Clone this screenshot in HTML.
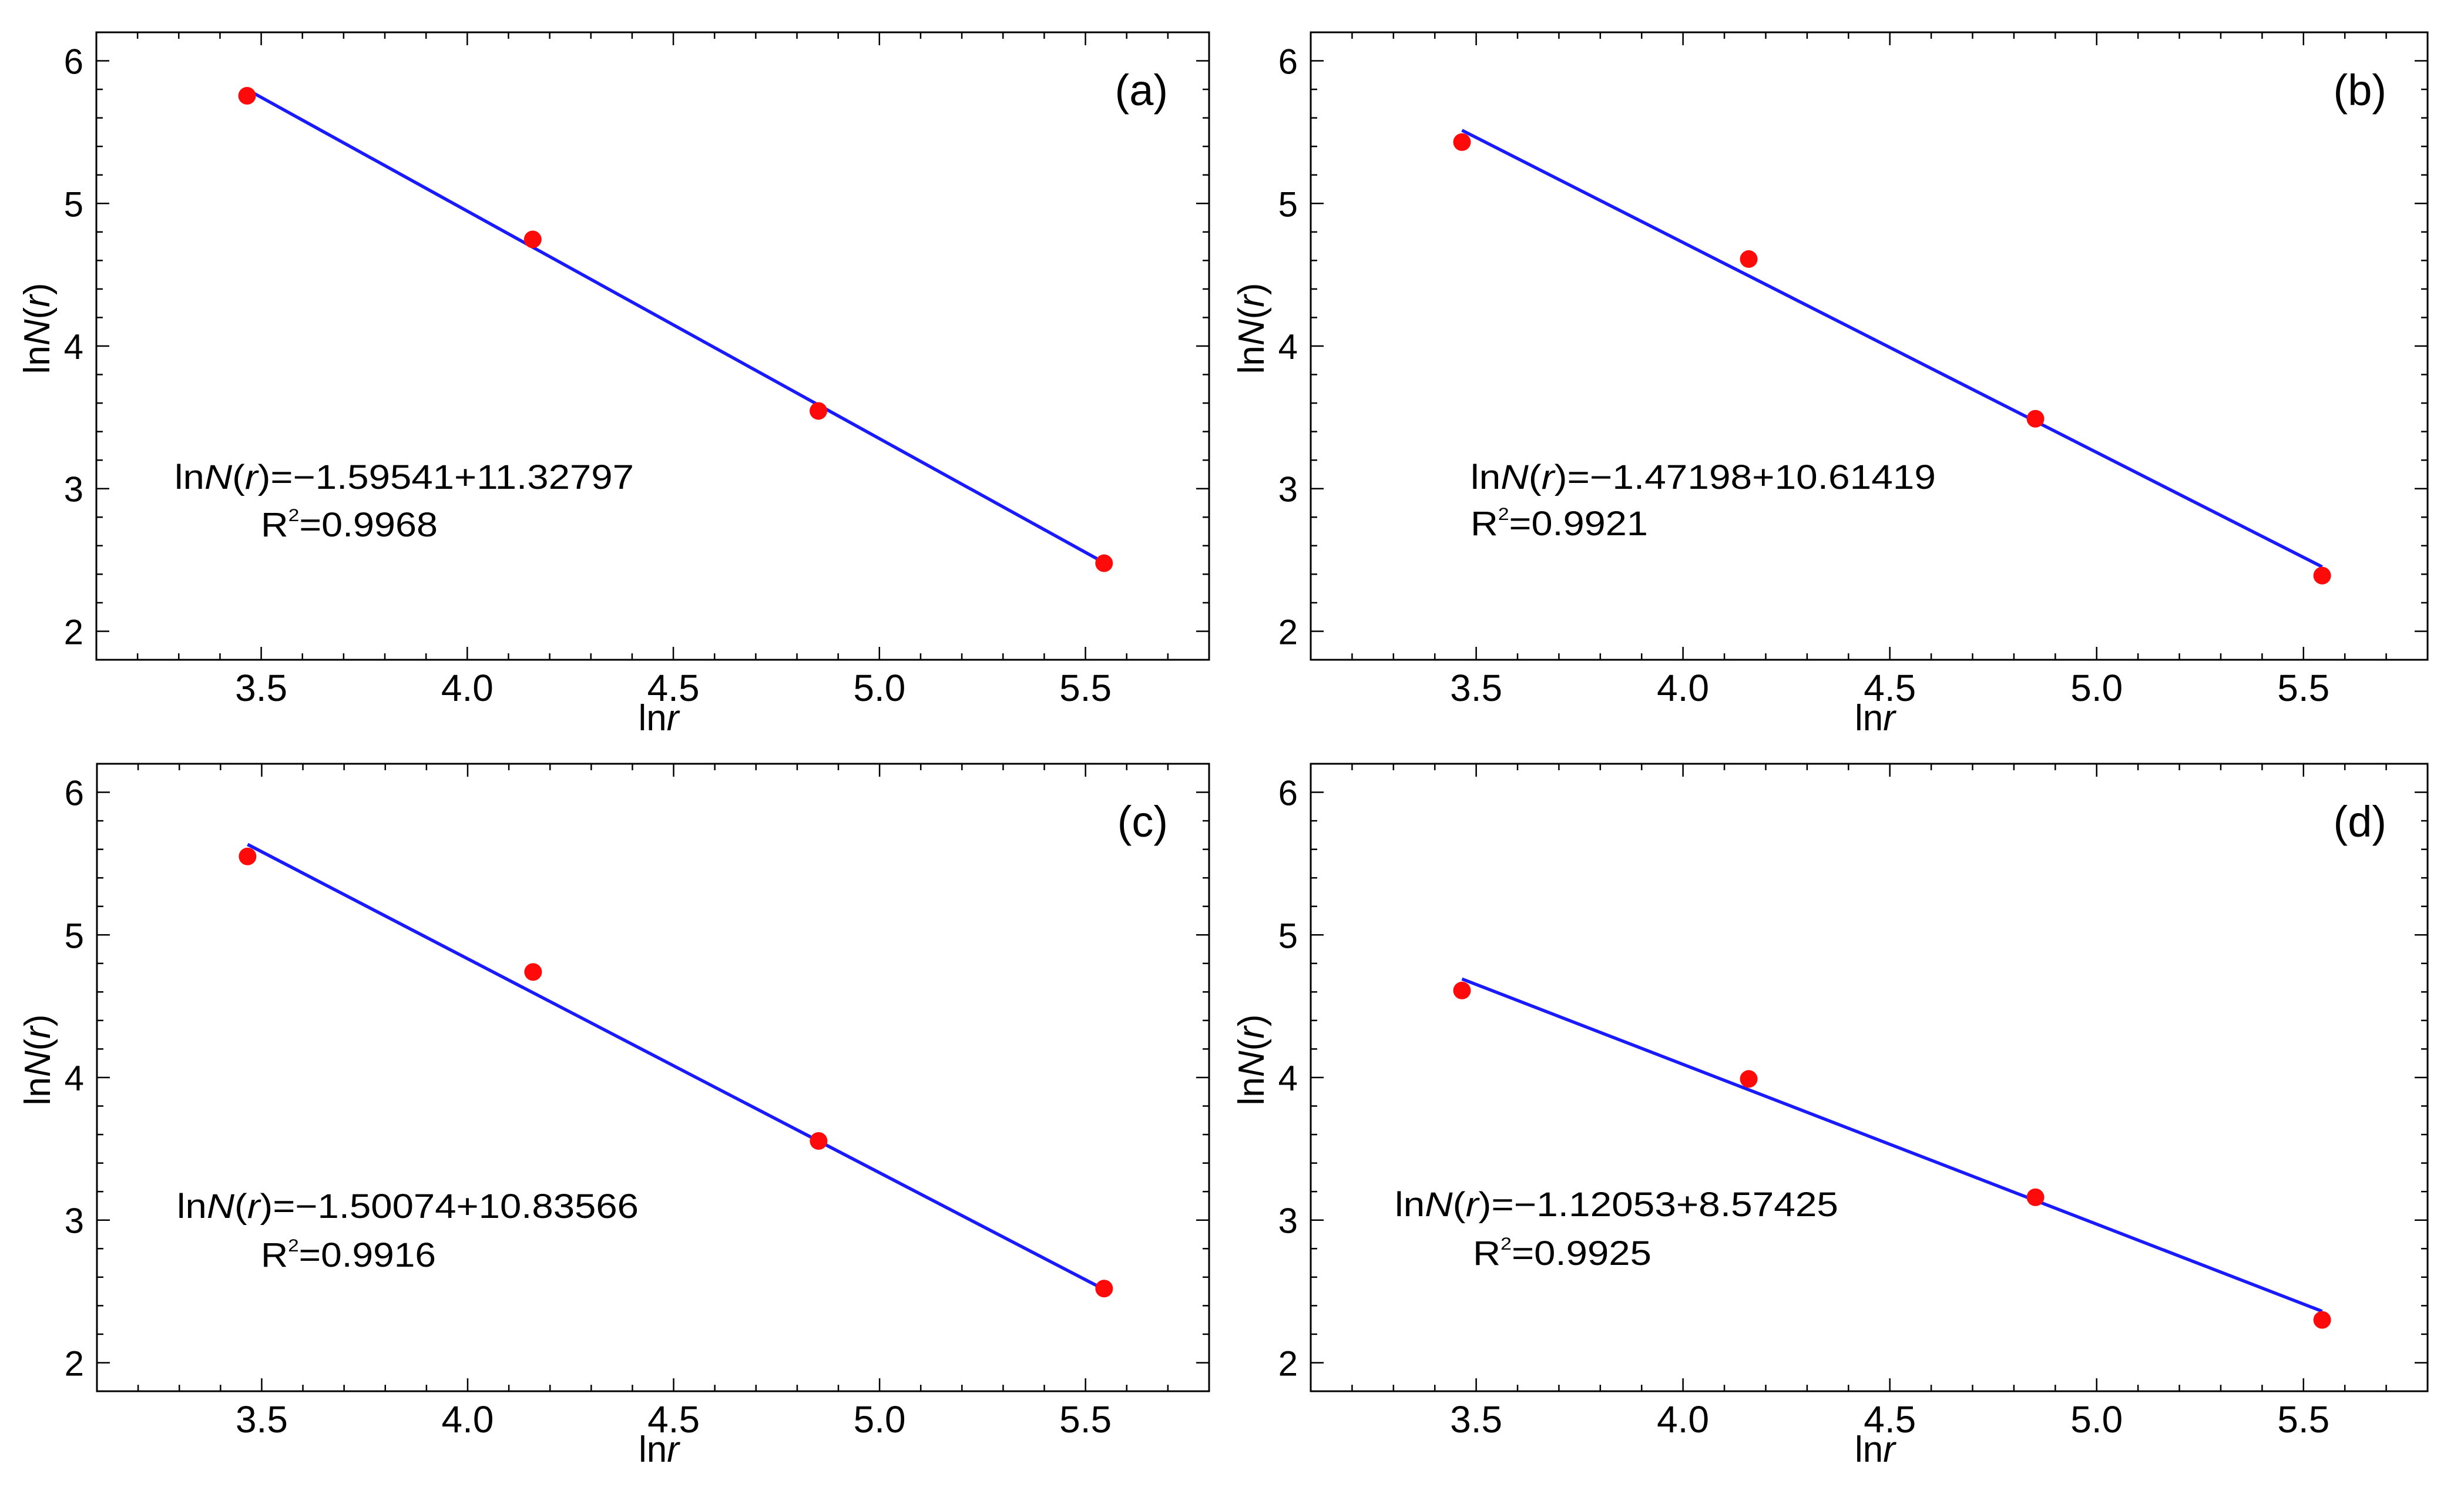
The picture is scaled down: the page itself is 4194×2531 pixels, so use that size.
<!DOCTYPE html>
<html><head><meta charset="utf-8">
<style>
html,body{margin:0;padding:0;background:#fff;}
svg{display:block;font-family:"Liberation Sans",sans-serif;}
</style></head>
<body>
<svg id="fig" xmlns="http://www.w3.org/2000/svg" width="4194" height="2531" viewBox="0 0 4194 2531"></svg>
<script>
// ---- data ----
const xValues = [3.4657, 4.1589, 4.852, 5.5452];
const yPanelA = [5.755, 4.748, 3.545, 2.477];
const yPanelB = [5.43, 4.61, 3.49, 2.39];
const yPanelC = [5.55, 4.74, 3.555, 2.52];
const yPanelD = [4.61, 3.99, 3.16, 2.30];
const fitSlopes = [-1.59541, -1.47198, -1.50074, -1.12053];
const fitIntercepts = [11.32797, 10.61419, 10.83566, 8.57425];
const eqSlopeText = ["1.59541", "1.47198", "1.50074", "1.12053"];
const eqInterceptText = ["11.32797", "10.61419", "10.83566", "8.57425"];
const r2Text = ["0.9968", "0.9921", "0.9916", "0.9925"];
const panelLetters = ["(a)", "(b)", "(c)", "(d)"];
const xTickLabels = ["3.5", "4.0", "4.5", "5.0", "5.5"];
const yTickLabels = ["2", "3", "4", "5", "6"];

const ySeries = [yPanelA, yPanelB, yPanelC, yPanelD];
const xMin = 3.1, xMax = 5.8, yMin = 1.8, yMax = 6.2;

const layout = [
  {l:164, r:2058, t:55, b:1123, eqX:297, eqW:782, eqY:832, r2X:444, r2W:301, r2Y:913},
  {l:2231, r:4132, t:55, b:1123, eqX:2503, eqW:792, eqY:832, r2X:2503, r2W:302, r2Y:911},
  {l:165, r:2058, t:1300, b:2368, eqX:301, eqW:786, eqY:2073, r2X:444, r2W:298, r2Y:2156},
  {l:2231, r:4132, t:1300, b:2368, eqX:2374, eqW:755, eqY:2070, r2X:2507, r2W:304, r2Y:2153}
];

const NS = "http://www.w3.org/2000/svg";
const svg = document.getElementById('fig');
function mk(tag, attrs, parent){
  const e = document.createElementNS(NS, tag);
  for (const k in attrs) e.setAttribute(k, attrs[k]);
  (parent||svg).appendChild(e);
  return e;
}

layout.forEach((L, i) => {
  const g = mk('g', {});
  
  
  const sx = v => L.l + (v - xMin) / (xMax - xMin) * (L.r - L.l);
  const sy = v => L.b - (v - yMin) / (yMax - yMin) * (L.b - L.t);

  const frame = mk('rect', {x:L.l, y:L.t, width:L.r-L.l, height:L.b-L.t, fill:'none', stroke:'#000', 'stroke-width':3}, g);
  
  

  for (let k = 32; k <= 57; k++) {
    const v = k / 10;
    const major = (k % 5 === 0);
    const len = major ? 22 : 11;
    const x = sx(v);
    mk('line', {x1:x, y1:L.b, x2:x, y2:L.b-len, stroke:'#000', 'stroke-width':2.5}, g);
    mk('line', {x1:x, y1:L.t, x2:x, y2:L.t+len, stroke:'#000', 'stroke-width':2.5}, g);
  }
  for (let k = 10; k <= 30; k++) {
    const v = k / 5;
    const major = (k % 5 === 0);
    const len = major ? 22 : 11;
    const y = sy(v);
    mk('line', {x1:L.l, y1:y, x2:L.l+len, y2:y, stroke:'#000', 'stroke-width':2.5}, g);
    mk('line', {x1:L.r, y1:y, x2:L.r-len, y2:y, stroke:'#000', 'stroke-width':2.5}, g);
  }
  xTickLabels.forEach(t => {
    const e = mk('text', {x:sx(parseFloat(t)), y:L.b+70, 'font-size':64, 'text-anchor':'middle', fill:'#000'}, g);
    e.textContent = t;
    
    
  });
  yTickLabels.forEach(t => {
    const e = mk('text', {x:L.l-22, y:sy(parseFloat(t))+22, 'font-size':60, 'text-anchor':'end', fill:'#000'}, g);
    e.textContent = t;
    
    
  });
  const xt = mk('text', {x:(L.l+L.r)/2 + 10, y:L.b+120, 'font-size':62, 'text-anchor':'middle', fill:'#000'}, g);
  xt.innerHTML = 'ln<tspan font-style="italic">r</tspan>';
  
  
  const cy = (L.t + L.b) / 2 - 30;
  const cx = L.l - 100;
  const yt = mk('text', {x:cx, y:cy, 'font-size':62, 'text-anchor':'middle', fill:'#000', transform:`rotate(-90 ${cx} ${cy}) translate(0 20)`}, g);
  yt.innerHTML = 'ln<tspan font-style="italic">N</tspan>(<tspan font-style="italic">r</tspan>)';
  
  

  const x0 = xValues[0], x1 = xValues[xValues.length-1];
  const ln = mk('line', {x1:sx(x0), y1:sy(fitSlopes[i]*x0+fitIntercepts[i]), x2:sx(x1), y2:sy(fitSlopes[i]*x1+fitIntercepts[i]), stroke:'#1a1aff', 'stroke-width':5.5}, g);
  
  

  ySeries[i].forEach((yv, j) => {
    const c = mk('circle', {cx:sx(xValues[j]), cy:sy(yv), r:15, fill:'#ff0a0a'}, g);
    
    
  });

  const eq = mk('text', {x:L.eqX, y:L.eqY, 'font-size':58, fill:'#000', textLength:L.eqW, lengthAdjust:'spacingAndGlyphs'}, g);
  eq.innerHTML = 'ln<tspan font-style="italic">N</tspan>(<tspan font-style="italic">r</tspan>)=\u2212' + eqSlopeText[i] + '+' + eqInterceptText[i];
  
  
  const r2 = mk('text', {x:L.r2X, y:L.r2Y, 'font-size':58, fill:'#000', textLength:L.r2W, lengthAdjust:'spacingAndGlyphs'}, g);
  r2.innerHTML = 'R<tspan font-size="30" dy="-26">2</tspan><tspan dy="26">=' + r2Text[i] + '</tspan>';
  
  

  const pl = mk('text', {x:L.r-70, y:L.t+124, 'font-size':74, 'text-anchor':'end', fill:'#000'}, g);
  pl.textContent = panelLetters[i];
  
  
});
</script>
</body></html>
